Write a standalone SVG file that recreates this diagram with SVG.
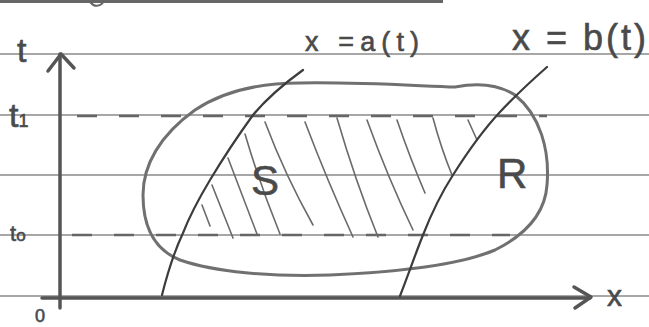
<svg xmlns="http://www.w3.org/2000/svg" width="649" height="327" viewBox="0 0 649 327">
<style>
.rule{stroke:#8a8a8a;stroke-width:1.4;fill:none}
.axis{stroke:#555;stroke-width:3.5;fill:none;stroke-linecap:round;stroke-linejoin:round}
.dash{stroke:#666;stroke-width:2.4;fill:none;stroke-dasharray:20 22}
.curve{stroke:#3c3c3c;stroke-width:2.2;fill:none;stroke-linecap:round}
.blob{stroke:#707070;stroke-width:3;fill:none;stroke-linejoin:round}
.hatch{stroke:#6a6a6a;stroke-width:1.6;fill:none;stroke-linecap:round}
.lbl{font-family:"Liberation Sans",Arial,sans-serif;fill:#4a4a4a;stroke:#4a4a4a;stroke-width:0.6}
</style>
<rect width="649" height="327" fill="#ffffff"/>
<g id="paper">
<path d="M0 1.5H443" stroke="#666" stroke-width="3"/>
<path d="M90 2Q96 9 103 3" stroke="#666" stroke-width="2" fill="none"/>
<path class="rule" d="M0 54H649M0 115H649M0 175H649M0 235H649M0 296H649"/>
</g>
<g id="connectors">
<path class="dash" d="M77 116H547"/>
<path class="dash" d="M72 235H510"/>
</g>
<g id="t-axis">
<path class="axis" d="M60 308V54"/>
<path class="axis" d="M48 71L61 54L74 68"/>
<text class="lbl" x="17" y="62" font-size="34">t</text>
</g>
<g id="x-axis">
<path class="axis" d="M42 298H590"/>
<path class="axis" d="M574 287L591 297L575 308"/>
<text class="lbl" x="607" y="306" font-size="30">x</text>
</g>
<g id="origin"><text class="lbl" x="35" y="322" font-size="18">0</text></g>
<g id="t1-label"><text class="lbl" x="9" y="127" font-size="34">t<tspan font-size="18">1</tspan></text></g>
<g id="t0-label"><text class="lbl" x="10" y="241" font-size="22">t<tspan font-size="17">o</tspan></text></g>
<g id="region-R">
<path class="blob" d="M300 83C360 82 420 86 455 87C470 84 495 82 515 95C540 115 550 150 547 185C545 215 525 235 495 250C460 265 400 272 330 275C270 277 215 272 180 260C150 248 143 220 143 195C143 165 160 135 195 110C225 90 260 83 300 83Z"/>
<text class="lbl" x="497" y="188" font-size="42">R</text>
</g>
<g id="region-S">
<path class="hatch" d="M202 205L210 226M212 185Q222 210 233 238M228 158Q242 195 257 234M245 134Q260 185 280 234M265 122Q285 175 313 225M305 122Q327 180 353 237M337 118Q355 180 378 237M367 120Q388 178 413 230M397 120Q410 158 425 193M433 118Q441 148 452 175M468 120L477 140"/>
<text class="lbl" x="251" y="195" font-size="42">S</text>
</g>
<g id="curve-a">
<path class="curve" d="M162 295C167 275 175 250 183 233C190 215 198 200 210 180C225 155 240 133 253 115C268 97 285 83 303 70"/>
<text class="lbl" x="305" y="51" font-size="27" textLength="114" lengthAdjust="spacing">x =a(t)</text>
</g>
<g id="curve-b">
<path class="curve" d="M400 296C410 270 415 255 423 235C432 212 442 192 453 175C465 156 485 128 500 112C515 96 530 82 547 67"/>
<text class="lbl" x="512" y="50" font-size="36" textLength="134" lengthAdjust="spacing">x = b(t)</text>
</g>
</svg>
